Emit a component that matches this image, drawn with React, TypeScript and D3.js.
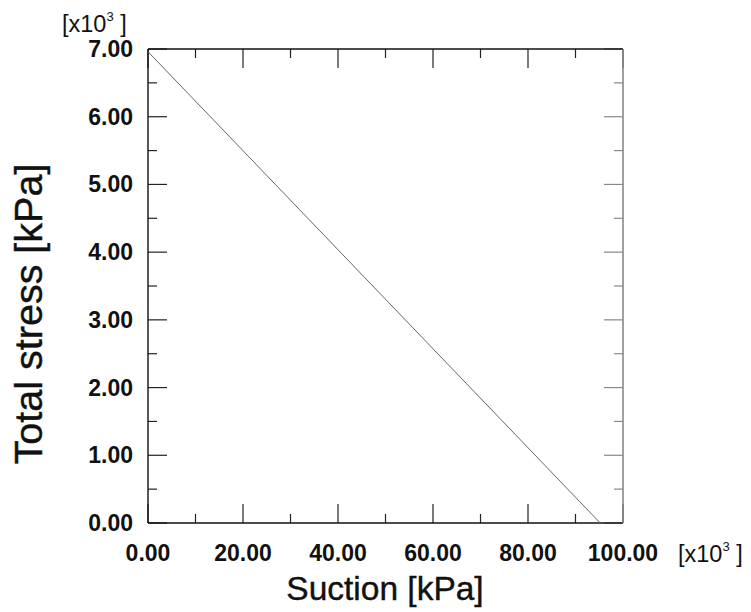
import React from "react";
import * as d3 from "d3";

const xTicks = [0, 20, 40, 60, 80, 100];
const xMinor = [10, 30, 50, 70, 90];
const yTicks = [0, 1, 2, 3, 4, 5, 6, 7];
const yMinor = [0.5, 1.5, 2.5, 3.5, 4.5, 5.5, 6.5];
const suction = [0, 95.2];
const totalStress = [6.96, 0];

const W = 751, H = 612;
const L = 148, R = 623, T = 49, B = 523;

export default function App() {
  const x = d3.scaleLinear().domain([0, 100]).range([L, R]);
  const y = d3.scaleLinear().domain([0, 7]).range([B, T]);
  const pts = suction.map((s, i) => [s, totalStress[i]] as [number, number]);
  const line = d3.line<[number, number]>().x(d => x(d[0])).y(d => y(d[1]));
  const font = "'Liberation Sans', Arial, Helvetica, sans-serif";
  const major = 19, minor = 9;
  return (
    <svg width={W} height={H} style={{ position: "absolute", left: 0, top: 0, background: "#fff" }} fontFamily={font}>
      <rect x={0} y={0} width={W} height={H} fill="#fff" />
      {/* ticks */}
      {xTicks.map(t => (
        <g key={"xt" + t} stroke="#222" strokeWidth={1.2}>
          <line x1={x(t)} x2={x(t)} y1={B} y2={B - major} />
          <line x1={x(t)} x2={x(t)} y1={T} y2={T + major} />
        </g>
      ))}
      {xMinor.map(t => (
        <g key={"xm" + t} stroke="#222" strokeWidth={1.2}>
          <line x1={x(t)} x2={x(t)} y1={B} y2={B - minor} />
          <line x1={x(t)} x2={x(t)} y1={T} y2={T + minor} />
        </g>
      ))}
      {yTicks.map(t => (
        <g key={"yt" + t} strokeWidth={1.2}>
          <line x1={L} x2={L + major} y1={y(t)} y2={y(t)} stroke="#222" />
          <line x1={R} x2={R - major} y1={y(t)} y2={y(t)} stroke="#888" />
        </g>
      ))}
      {yMinor.map(t => (
        <g key={"ym" + t} strokeWidth={1.2}>
          <line x1={L} x2={L + minor} y1={y(t)} y2={y(t)} stroke="#222" />
          <line x1={R} x2={R - minor} y1={y(t)} y2={y(t)} stroke="#888" />
        </g>
      ))}
      {/* frame */}
      <line x1={L} x2={R} y1={T} y2={T} stroke="#111" strokeWidth={1.4} />
      <line x1={L} x2={R} y1={B} y2={B} stroke="#111" strokeWidth={1.4} />
      <line x1={L} x2={L} y1={T} y2={B} stroke="#111" strokeWidth={1.4} />
      <line x1={R} x2={R} y1={T} y2={B} stroke="#888" strokeWidth={1.6} />
      {/* data */}
      <path d={line(pts) || ""} fill="none" stroke="#666" strokeWidth={1} />
      {/* tick labels */}
      {xTicks.map(t => (
        <text key={"xl" + t} x={x(t)} y={561} textAnchor="middle" fontSize={23} fontWeight="bold" fill="#111">
          {t.toFixed(2)}
        </text>
      ))}
      {yTicks.map(t => (
        <text key={"yl" + t} x={133} y={y(t) + 8} textAnchor="end" fontSize={23} fontWeight="bold" fill="#111">
          {t.toFixed(2)}
        </text>
      ))}
      {/* multipliers */}
      <text x={62} y={32} fontSize={23.5} fill="#111">
        [x10<tspan fontSize={13} dy={-11}>3</tspan><tspan dy={11}> ]</tspan>
      </text>
      <text x={678} y={562} fontSize={23.5} fill="#111">
        [x10<tspan fontSize={13} dy={-11}>3</tspan><tspan dy={11}> ]</tspan>
      </text>
      {/* axis titles */}
      <text x={385} y={600} textAnchor="middle" fontSize={33.5} fill="#111" stroke="#111" strokeWidth={0.4}>Suction [kPa]</text>
      <text transform={`translate(42,314) rotate(-90)`} textAnchor="middle" fontSize={39.5} fill="#111" stroke="#111" strokeWidth={0.4}>Total stress [kPa]</text>
    </svg>
  );
}
